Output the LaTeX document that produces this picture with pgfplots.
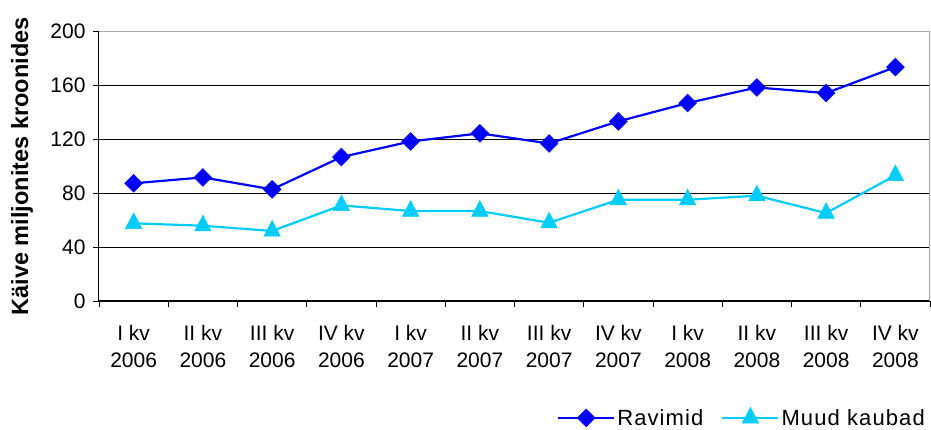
\documentclass[border=0pt]{standalone}
\usepackage{fontspec}
\setmainfont{Liberation Sans}
\newfontfamily\legfont[LetterSpace=5]{Liberation Sans}
\usepackage{pgfplots}
\pgfplotsset{compat=1.18}
\definecolor{ravblue}{RGB}{0,0,255}
\definecolor{muudcyan}{RGB}{0,204,255}
\definecolor{framegray}{RGB}{170,170,170}

\begin{document}
\begin{tikzpicture}
\useasboundingbox (-99pt,-129pt) rectangle (832pt,301pt);
\begin{axis}[
    at={(0pt,0pt)}, anchor=south west,
    width=831pt, height=269.3pt, scale only axis,
    xmin=0.5, xmax=12.5, ymin=0, ymax=200,
    axis x line*=bottom, axis y line*=left,
    axis line style={-, black, line width=1pt},
    ytick={0,40,...,200},
    ymajorgrids, grid style={black, line width=0.9pt},
    xtick={1,...,12},
    xticklabels={{I kv\\2006},{II kv\\2006},{III kv\\2006},{IV kv\\2006},
                 {I kv\\2007},{II kv\\2007},{III kv\\2007},{IV kv\\2007},
                 {I kv\\2008},{II kv\\2008},{III kv\\2008},{IV kv\\2008}},
    major x tick style={draw=none},
    minor xtick={0.5,1.5,...,12.5},
    tick align=outside, major tick length=6pt, minor tick length=6pt,
    tick style={black, line width=0.9pt},
    /pgf/number format/assume math mode=true,
    yticklabel style={font=\fontsize{21}{24}\selectfont, xshift=-4pt},
    xticklabel style={font=\fontsize{21}{27}\selectfont, align=center, yshift=-15pt},
    every axis y label/.style={at={(axis description cs:-0.0927,0.5)}, rotate=90, anchor=center},
    ylabel={Käive miljonites kroonides},
    ylabel style={font=\bfseries\fontsize{23.5}{26}\selectfont},
    legend style={at={(1,-0.434)}, anchor=east, draw=none, fill=none,
                  legend columns=2, font=\legfont\fontsize{22}{26}\selectfont,
                  /tikz/every even column/.append style={column sep=16pt}},
    legend image code/.code={\draw[mark repeat=2,mark phase=2] plot coordinates {(0pt,0pt)(28pt,0pt)(56pt,0pt)};},
]
\addplot[ravblue, line width=2.2pt, mark=square*, mark size=6.3pt,
         mark options={solid, rotate=45, line width=0.5pt}]
  coordinates {(1,87.4) (2,91.8) (3,82.9) (4,106.9) (5,118.5) (6,124.5)
               (7,117.0) (8,133.4) (9,147.0) (10,158.6) (11,154.4) (12,173.7)};
\addlegendentry{Ravimid}
\addplot[muudcyan, line width=2.2pt, mark=triangle*, mark size=9.5pt,
         mark options={solid, yscale=1.1, line width=0.5pt}]
  coordinates {(1,57.7) (2,55.9) (3,52.0) (4,71.0) (5,66.8) (6,66.8)
               (7,58.1) (8,75.2) (9,75.2) (10,78.2) (11,65.3) (12,93.3)};
\addlegendentry{Muud kaubad}
\draw[framegray, line width=1.5pt] (rel axis cs:0,1) -- (rel axis cs:1,1) -- (rel axis cs:1,0);
\end{axis}
\end{tikzpicture}
\end{document}
